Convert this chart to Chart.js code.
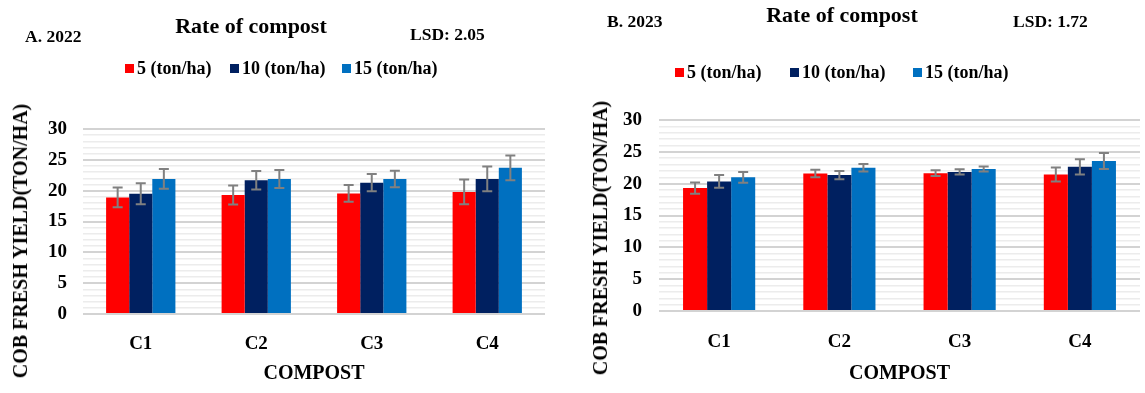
<!DOCTYPE html>
<html>
<head>
<meta charset="utf-8">
<script src="https://cdn.jsdelivr.net/npm/chart.js@4.4.1/dist/chart.umd.min.js"></script>
<style>
  html, body { margin: 0; padding: 0; background: #fff; }
  #wrap { position: relative; width: 1145px; height: 393px; overflow: hidden; font-family: "Liberation Serif", "DejaVu Serif", serif; font-weight: bold; color: #000; }
  canvas { position: absolute; top: 0; }
  .t { position: absolute; white-space: nowrap; line-height: 1; }
  .ttl { font-size: 22px; transform: translate(-50%, -50%); }
  .lab { font-size: 17.5px; transform: translateY(-50%); }
  .leg { font-size: 18px; transform: translateY(-50%); display: flex; align-items: center; }
  .leg i { display: inline-block; width: 9px; height: 9px; margin-right: 3px; }
  .yt { font-size: 20px; transform: translate(-50%, -50%) rotate(-90deg); }
</style>
</head>
<body>
<div id="wrap">
  <canvas id="c1" width="575" height="393" style="left:0px"></canvas>
  <canvas id="c2" width="565" height="393" style="left:580px"></canvas>
</div>
<script>
// ---- data ----
const categories = ['C1', 'C2', 'C3', 'C4'];
const seriesLabels = ['5 (ton/ha)', '10 (ton/ha)', '15 (ton/ha)'];
const seriesColors = ['#ff0000', '#002060', '#0070c0'];
const yTicks = [0, 5, 10, 15, 20, 25, 30];

// 2022
const y2022_5  = [18.9, 19.3, 19.55, 19.8];
const y2022_10 = [19.5, 21.7, 21.3, 21.9];
const y2022_15 = [21.9, 21.9, 21.9, 23.7];
const err2022_5  = [1.6, 1.55, 1.35, 2.0];
const err2022_10 = [1.7, 1.5, 1.4, 2.0];
const err2022_15 = [1.6, 1.45, 1.35, 2.0];

// 2023
const y2023_5  = [19.3, 21.6, 21.65, 21.45];
const y2023_10 = [20.35, 21.35, 21.85, 22.65];
const y2023_15 = [21.0, 22.5, 22.3, 23.55];
const err2023_5  = [0.9, 0.6, 0.45, 1.1];
const err2023_10 = [1.0, 0.65, 0.4, 1.2];
const err2023_15 = [0.85, 0.6, 0.4, 1.25];

const panelTexts = [
  { year: 'A. 2022', title: 'Rate of compost', lsd: 'LSD: 2.05', yTitle: 'COB FRESH YIELD(TON/HA)', xTitle: 'COMPOST' },
  { year: 'B. 2023', title: 'Rate of compost', lsd: 'LSD: 1.72', yTitle: 'COB FRESH YIELD(TON/HA)', xTitle: 'COMPOST' }
];

// ---- overlay text (layout only) ----
const wrap = document.getElementById('wrap');
function addText(cls, txt, x, y) {
  const d = document.createElement('div');
  d.className = 't ' + cls;
  d.textContent = txt;
  d.style.left = x + 'px';
  d.style.top = y + 'px';
  wrap.appendChild(d);
  return d;
}
function addLegend(xs, y) {
  seriesLabels.forEach((s, i) => {
    const d = document.createElement('div');
    d.className = 't leg';
    d.style.left = xs[i] + 'px';
    d.style.top = y + 'px';
    const b = document.createElement('i');
    b.style.background = seriesColors[i];
    d.appendChild(b);
    d.appendChild(document.createTextNode(s));
    wrap.appendChild(d);
  });
}
// left panel
addText('lab', panelTexts[0].year, 25, 37);
addText('ttl', panelTexts[0].title, 251, 26);
addText('lab', panelTexts[0].lsd, 410, 35);
addLegend([125, 230, 342], 68);
addText('yt', panelTexts[0].yTitle, 20, 241);
// right panel
addText('lab', panelTexts[1].year, 607, 22);
addText('ttl', panelTexts[1].title, 842, 15);
addText('lab', panelTexts[1].lsd, 1013, 22);
addLegend([675, 790, 913], 72);
addText('yt', panelTexts[1].yTitle, 600, 238);

// ---- chart ----
Chart.defaults.font.family = '"Liberation Serif", "DejaVu Serif", serif';
Chart.defaults.color = '#000';

const errorBars = {
  id: 'errorBars',
  afterDatasetsDraw(chart, args, opts) {
    const ctx = chart.ctx;
    const yScale = chart.scales.y;
    ctx.save();
    ctx.strokeStyle = '#808080';
    ctx.lineWidth = 2;
    chart.data.datasets.forEach((ds, i) => {
      const meta = chart.getDatasetMeta(i);
      meta.data.forEach((el, j) => {
        const v = ds.data[j], e = ds.errors[j];
        const x = el.x;
        const yt = yScale.getPixelForValue(v + e);
        const yb = yScale.getPixelForValue(v - e);
        ctx.beginPath();
        ctx.moveTo(x, yt); ctx.lineTo(x, yb);
        ctx.moveTo(x - 5, yt); ctx.lineTo(x + 5, yt);
        ctx.moveTo(x - 5, yb); ctx.lineTo(x + 5, yb);
        ctx.stroke();
      });
    });
    ctx.restore();
  }
};

function makeChart(id, series, errors, geom) {
  return new Chart(document.getElementById(id), {
    type: 'bar',
    data: {
      labels: categories,
      datasets: series.map((d, i) => ({
        label: seriesLabels[i],
        data: d,
        errors: errors[i],
        backgroundColor: seriesColors[i],
        borderWidth: 0,
        categoryPercentage: 0.6,
        barPercentage: 1.0
      }))
    },
    options: {
      responsive: false,
      animation: false,
      devicePixelRatio: 1,
      layout: { padding: { left: 0, right: geom.right, top: geom.top, bottom: 0 } },
      plugins: { legend: { display: false }, title: { display: false }, tooltip: { enabled: false } },
      scales: {
        x: {
          grid: { display: false },
          border: { display: false },
          ticks: { font: { size: 19, weight: 'bold' }, padding: geom.xpad },
          title: { display: true, text: panelTexts[geom.p].xTitle, font: { size: 20, weight: 'bold' }, padding: { top: 0, bottom: 7 } },
          afterFit: (s) => { s.height = geom.xh; }
        },
        y: {
          min: 0, max: 30,
          border: { display: false },
          grid: {
            drawTicks: false,
            color: (c) => yTicks.includes(c.tick.value) ? '#d3d3d3' : '#ececec',
            lineWidth: (c) => yTicks.includes(c.tick.value) ? 2 : 1.5
          },
          ticks: {
            stepSize: 1,
            autoSkip: false,
            padding: geom.ypad,
            font: { size: 19, weight: 'bold' },
            callback: (v) => yTicks.includes(v) ? String(v) : ''
          },
          afterFit: (s) => { s.width = geom.yw; }
        }
      }
    },
    plugins: [errorBars]
  });
}

makeChart('c1', [y2022_5, y2022_10, y2022_15], [err2022_5, err2022_10, err2022_15],
  { p: 0, right: 30, top: 129, xh: 79, yw: 83, xpad: 11, ypad: 16 });
makeChart('c2', [y2023_5, y2023_10, y2023_15], [err2023_5, err2023_10, err2023_15],
  { p: 1, right: 5, top: 120, xh: 82, yw: 79, xpad: 12, ypad: 17 });
</script>
</body>
</html>
